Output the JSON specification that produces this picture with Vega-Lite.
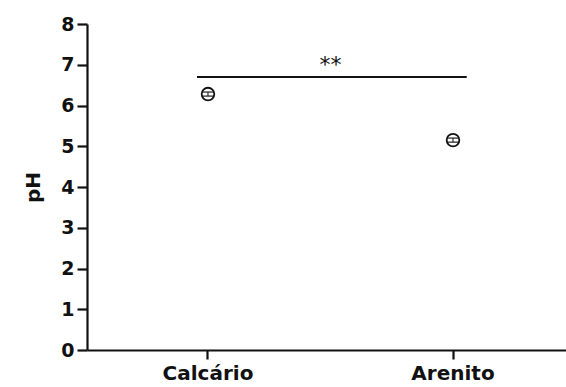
{
  "$schema": "https://vega.github.io/schema/vega-lite/v6.json",
  "autosize": {"type": "none"},
  "width": 479,
  "height": 326,
  "padding": {"left": 87, "top": 24, "right": 0, "bottom": 37},
  "background": "white",
  "config": {
    "view": {"stroke": null},
    "font": "DejaVu Sans",
    "axis": {
      "domainColor": "#111", "domainWidth": 2.2, "tickColor": "#111", "tickWidth": 2.2,
      "labelColor": "#111", "labelFont": "DejaVu Sans", "labelFontWeight": "bold",
      "titleFont": "DejaVu Sans", "titleColor": "#111", "titleFontWeight": "bold",
      "grid": false
    }
  },
  "datasets": {
    "groups": [
      {"solo": "Calcário", "ph": 6.28, "lo": 6.23, "hi": 6.33},
      {"solo": "Arenito", "ph": 5.15, "lo": 5.1, "hi": 5.2}
    ],
    "sig": [
      {"from": "Calcário", "to": "Arenito", "level": 6.7, "label": "**", "textLevel": 6.82}
    ]
  },
  "encoding": {},
  "layer": [
    {
      "data": {"name": "groups"},
      "mark": {"type": "point", "shape": "circle", "size": 160, "filled": false, "stroke": "#111", "strokeWidth": 1.8, "opacity": 1},
      "encoding": {
        "x": {"field": "solo", "type": "nominal",
              "scale": {"type": "band", "domain": ["Calcário", "Arenito"], "paddingInner": 0.3, "paddingOuter": 0.1275, "align": 0.564},
              "axis": {"title": null, "labelAngle": 0, "labelFontSize": 20, "labelPadding": 4, "tickSize": 9}},
        "y": {"field": "ph", "type": "quantitative",
              "scale": {"domain": [0, 8], "nice": false},
              "axis": {"title": "pH", "titleFontSize": 20, "titlePadding": 17, "values": [0,1,2,3,4,5,6,7,8], "labelFontSize": 19, "tickSize": 10, "labelPadding": 3}}
      }
    },
    {
      "data": {"name": "groups"},
      "mark": {"type": "rule", "color": "#111", "strokeWidth": 1},
      "encoding": {
        "x": {"field": "solo", "type": "nominal"},
        "y": {"field": "lo", "type": "quantitative"},
        "y2": {"field": "hi"}
      }
    },
    {
      "data": {"name": "groups"},
      "mark": {"type": "tick", "color": "#111", "thickness": 1.6, "size": 12, "orient": "horizontal"},
      "encoding": {
        "x": {"field": "solo", "type": "nominal"},
        "y": {"field": "lo", "type": "quantitative"}
      }
    },
    {
      "data": {"name": "groups"},
      "mark": {"type": "tick", "color": "#111", "thickness": 1.6, "size": 12, "orient": "horizontal"},
      "encoding": {
        "x": {"field": "solo", "type": "nominal"},
        "y": {"field": "hi", "type": "quantitative"}
      }
    },
    {
      "data": {"name": "sig"},
      "mark": {"type": "rule", "color": "#111", "strokeWidth": 2.2},
      "encoding": {
        "x": {"field": "from", "type": "nominal", "bandPosition": 0.436},
        "x2": {"field": "to", "bandPosition": 0.58},
        "y": {"field": "level", "type": "quantitative"}
      }
    },
    {
      "data": {"name": "sig"},
      "mark": {"type": "text", "fontSize": 22, "color": "#111", "baseline": "alphabetic", "align": "center"},
      "encoding": {
        "x": {"field": "from", "type": "nominal", "bandPosition": 1.214},
        "y": {"field": "textLevel", "type": "quantitative"},
        "text": {"field": "label"}
      }
    }
  ]
}
